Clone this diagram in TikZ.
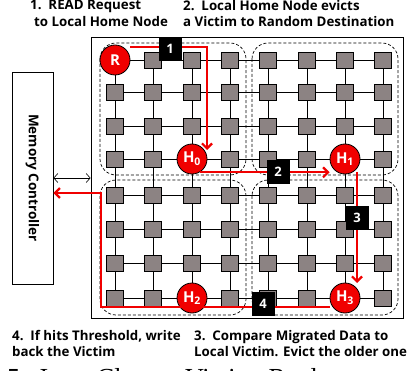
\documentclass[tikz,border=0pt]{standalone}
\usepackage{fontspec}
\setsansfont{Open Sans}
\setmainfont{Liberation Serif}
\usetikzlibrary{arrows.meta}

\definecolor{routergray}{RGB}{140,131,131}
\definecolor{hotred}{RGB}{240,0,0}

\begin{document}
\begin{tikzpicture}[x=1pt,y=-1pt,
  router/.style={draw=black,fill=routergray,line width=0.8pt,
    minimum width=17pt,minimum height=16pt,inner sep=0pt},
  home/.style={circle,draw=black,fill=hotred,line width=0.8pt,
    minimum size=30pt,inner sep=0pt,text=white,
    font=\sffamily\bfseries\fontsize{15}{15}\selectfont},
  stepnum/.style={fill=black,text=white,minimum width=23pt,
    minimum height=24pt,inner sep=0pt,
    font=\sffamily\bfseries\fontsize{13}{13}\selectfont},
  redarrow/.style={draw=hotred,line width=2.2pt,
    -{Straight Barb[length=5pt,width=10pt]}},
  cluster/.style={draw=black,line width=0.7pt,
    dash pattern=on 3pt off 2pt,rounded corners=16pt},
  mesh/.style={line width=0.8pt},
  steptext/.style={anchor=north west,align=left,inner sep=0pt,
    font=\sffamily\bfseries\fontsize{13.3}{16.5}\selectfont}
]

  \useasboundingbox (0,0) rectangle (409,371);

  % Boxes

  \node[draw,line width=0.8pt,minimum width=312pt,minimum height=281pt,
    inner sep=0pt] (chip) at (247,177.5) {};
  \node[draw,line width=0.8pt,minimum width=41pt,minimum height=212pt,
    inner sep=0pt,font=\sffamily\bfseries\fontsize{13.5}{13.5}\selectfont]
    (mc) at (32.5,178) {\rotatebox{-90}{Memory Controller}};

  % Clusters
  \draw[cluster] (100,43) rectangle (246,175);
  \draw[cluster] (252,43) rectangle (398,175);
  \draw[cluster] (100,180) rectangle (246,315);
  \draw[cluster] (252,180) rectangle (398,315);

  % Routers

  \foreach \row/\y in {1/60,2/92,3/126,4/159,5/195,6/229,7/263,8/298}
    \foreach \col/\x in {1/115,2/153,3/192,4/230,5/268,6/307,7/345,8/383}
      \node[router] (r-\row-\col) at (\x,\y) {};

  \foreach \row in {1,...,8}
    \foreach \col in {1,...,7} {
      \pgfmathtruncatemacro{\nxt}{\col+1}
      \draw[mesh] (r-\row-\col) -- (r-\row-\nxt);
      \draw[mesh] (r-\col-\row) -- (r-\nxt-\row);
    }

  % Home nodes
  \node[home] (R)  at (r-1-1) {R};
  \node[home] (H0) at (r-4-3) {H\textsubscript{0}};
  \node[home] (H1) at (r-4-7) {H\textsubscript{1}};
  \node[home] (H2) at (r-8-3) {H\textsubscript{2}};
  \node[home] (H3) at (r-8-7) {H\textsubscript{3}};

  % Flow
  \coordinate (wb) at (101,250);

  \draw[redarrow] ([yshift=13pt]R.east) -| ([xshift=15pt,yshift=9pt]H0.center);
  \draw[redarrow] (H0.-60) -- (H0.-60 -| H1.west);
  \draw[redarrow] ([xshift=12pt,yshift=-13pt]H1.center)
    -- ([xshift=12pt,yshift=15pt]H3.center);
  \draw[redarrow] ([yshift=-9pt]H3.west) -| (wb) |- ([yshift=-15pt]mc.east);

  \draw[line width=0.6pt,{Straight Barb[length=4pt,width=9pt]}-{Straight Barb[length=4pt,width=9pt]}]
    (mc.east) -- (mc.east -| chip.west);

  \node[stepnum] (s1) at (170,49)  {1};
  \node[stepnum] (s2) at (278,172) {2};
  \node[stepnum] (s3) at (357,218) {3};
  \node[stepnum] (s4) at (263,304) {4};

  % Captions
  \node[steptext] (t1) at (30,0)   {1.\ \ READ Request\\\hspace{4pt}to Local Home Node};
  \node[steptext] (t2) at (183,0)  {2.\ \ Local Home Node evicts\\a Victim to Random Destination};
  \node[steptext] (t4) at (12,330) {4.\ \ If hits Threshold, write\\back the Victim};
  \node[steptext] (t3) at (194,330) {3.\ \ Compare Migrated Data to\\Local Victim. Evict the older one};

  \node[anchor=base west,inner sep=0pt,font=\fontsize{26}{26}\selectfont]
    (fig) at (7,386) {5.\ \ Inter-Cluster\ \ Victim\ \ Replacement\ \ F};

\end{tikzpicture}
\end{document}
